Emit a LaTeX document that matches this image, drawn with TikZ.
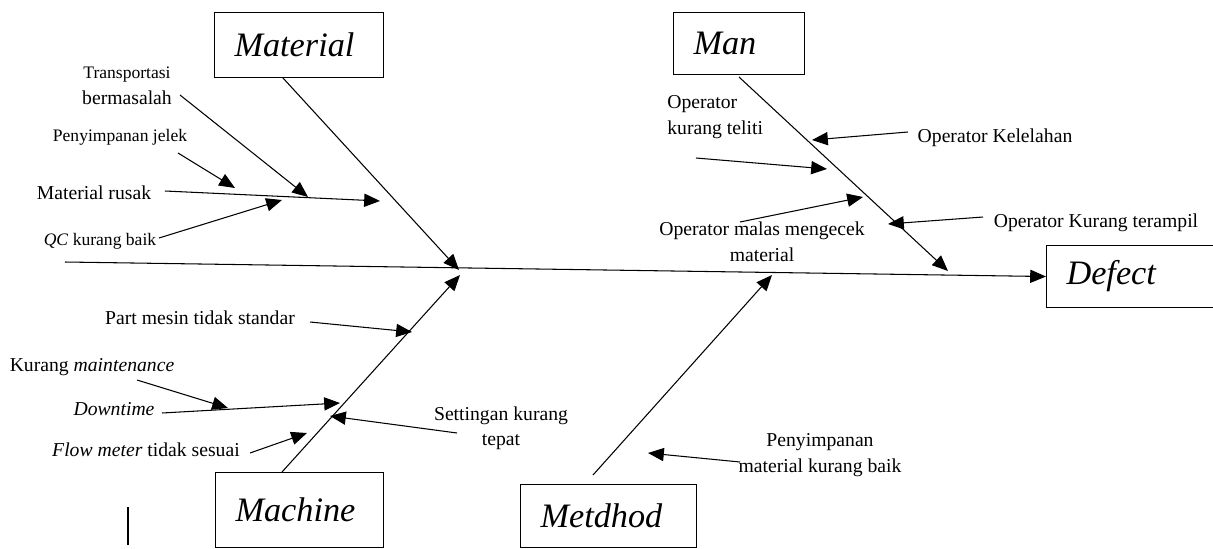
\documentclass[tikz,border=0pt]{standalone}
\usepackage{fontspec}
\setmainfont{Liberation Serif}
\usetikzlibrary{arrows.meta}

\tikzset{
  bone/.style={line width=0.6pt},
  cause/.style={line width=0.6pt},
  lbl/.style={font=\fontsize{11.2}{14.5}\selectfont, inner sep=0pt, align=center},
  lblsmall/.style={font=\fontsize{10}{12}\selectfont, inner sep=0pt, align=center},
  catbox/.style={draw, line width=0.6pt, anchor=north west, align=left,
    inner xsep=0.4cm, inner ysep=0pt, font=\fontsize{19.5}{22}\selectfont\itshape},
}

\begin{document}
\begin{tikzpicture}[x=0.02cm, y=-0.02cm, >={Triangle[length=9pt,width=7.5pt]}]
  \useasboundingbox (0,0) rectangle (1213,548);
  % category boxes
  \node[catbox, text width=2.58cm, minimum height=1.30cm] (material) at (214,12) {Material};
  \node[catbox, text width=1.82cm, minimum height=1.24cm] (man) at (673,12) {Man};
  \node[catbox, text width=2.68cm, minimum height=1.24cm] (defect) at (1046,245) {Defect};
  \node[catbox, text width=2.56cm, minimum height=1.50cm] (machine) at (215,472) {Machine};
  \node[catbox, text width=2.72cm, minimum height=1.26cm] (metdhod) at (520,484) {Metdhod};

  % spine and bones
  \coordinate (tail) at (65,262);
  \coordinate (matS) at (283,78);  \coordinate (matE) at (459,270);
  \coordinate (manS) at (739,77);  \coordinate (manE) at (948,271);
  \coordinate (macS) at (282,472); \coordinate (macE) at (460,275);
  \coordinate (metS) at (593,475); \coordinate (metE) at (772,275);
  \draw [bone] [->] (tail) -- (defect.west);
  \draw [bone] [->] (matS) -- (matE);
  \draw [bone] [->] (manS) -- (manE);
  \draw [bone] [->] (macS) -- (macE);
  \draw [bone] [->] (metS) -- (metE);

  % causes: material
  \node[lbl] (transp) at (127,86) {{\fontsize{10}{12}\selectfont Transportasi}\\bermasalah};
  \node[lblsmall] (simpan) at (120,137) {Penyimpanan jelek};
  \node[lbl] (rusak) at (94,193) {Material rusak};
  \node[lblsmall] (qc) at (100,241) {\textit{QC} kurang baik};
  \coordinate (transpA) at (180,95);  \coordinate (transpB) at (308,197);
  \coordinate (simpanA) at (178,153); \coordinate (simpanB) at (235,188);
  \coordinate (rusakA) at (165,191);  \coordinate (rusakB) at (380,201);
  \coordinate (qcA) at (159,238);     \coordinate (qcB) at (282,200);
  \draw [cause] [->] (transpA) -- (transpB);
  \draw [cause] [->] (simpanA) -- (simpanB);
  \draw [cause] [->] (rusakA) -- (rusakB);
  \draw [cause] [->] (qcA) -- (qcB);

  % causes: machine
  \node[lbl] (part) at (200,318) {Part mesin tidak standar};
  \node[lbl] (maint) at (92,367) {Kurang \textit{maintenance}};
  \node[lbl] (down) at (114,409) {\textit{Downtime}};
  \node[lbl] (flow) at (146,450) {\textit{Flow meter} tidak sesuai};
  \node[lbl] (setting) at (501,428) {Settingan kurang\\tepat};
  \coordinate (partA) at (310,322);  \coordinate (partB) at (412,332);
  \coordinate (maintA) at (137,380); \coordinate (maintB) at (228,408);
  \coordinate (downA) at (162,413);  \coordinate (downB) at (340,403);
  \coordinate (flowA) at (250,453);  \coordinate (flowB) at (307,433);
  \coordinate (setA) at (457,433);   \coordinate (setB) at (330,416);
  \draw [cause] [->] (partA) -- (partB);
  \draw [cause] [->] (maintA) -- (maintB);
  \draw [cause] [->] (downA) -- (downB);
  \draw [cause] [->] (flowA) -- (flowB);
  \draw [cause] [->] (setA) -- (setB);

  % causes: man
  \node[lbl, align=left, anchor=west] (teliti) at (667,117) {Operator\\kurang teliti};
  \node[lbl] (lelah) at (995,138) {Operator Kelelahan};
  \node[lbl] (malas) at (762,242) {Operator malas mengecek\\material};
  \node[lbl] (tramp) at (1096,223) {Operator Kurang terampil};
  \coordinate (telitiA) at (696,158); \coordinate (telitiB) at (827,169);
  \coordinate (lelahA) at (908,132);  \coordinate (lelahB) at (812,140);
  \coordinate (malasA) at (740,222);  \coordinate (malasB) at (863,197);
  \coordinate (trampA) at (983,217);  \coordinate (trampB) at (888,224);
  \draw [cause] [->] (telitiA) -- (telitiB);
  \draw [cause] [->] (lelahA) -- (lelahB);
  \draw [cause] [->] (malasA) -- (malasB);
  \draw [cause] [->] (trampA) -- (trampB);

  % causes: method
  \node[lbl] (metod) at (820,455) {Penyimpanan\\material kurang baik};
  \coordinate (metodA) at (740,462); \coordinate (metodB) at (648,453);
  \draw [cause] [->] (metodA) -- (metodB);

  % stray mark
  \coordinate (barT) at (128,507); \coordinate (barB) at (128,545);
  \draw [bone] (barT) -- (barB);
\end{tikzpicture}
\end{document}
